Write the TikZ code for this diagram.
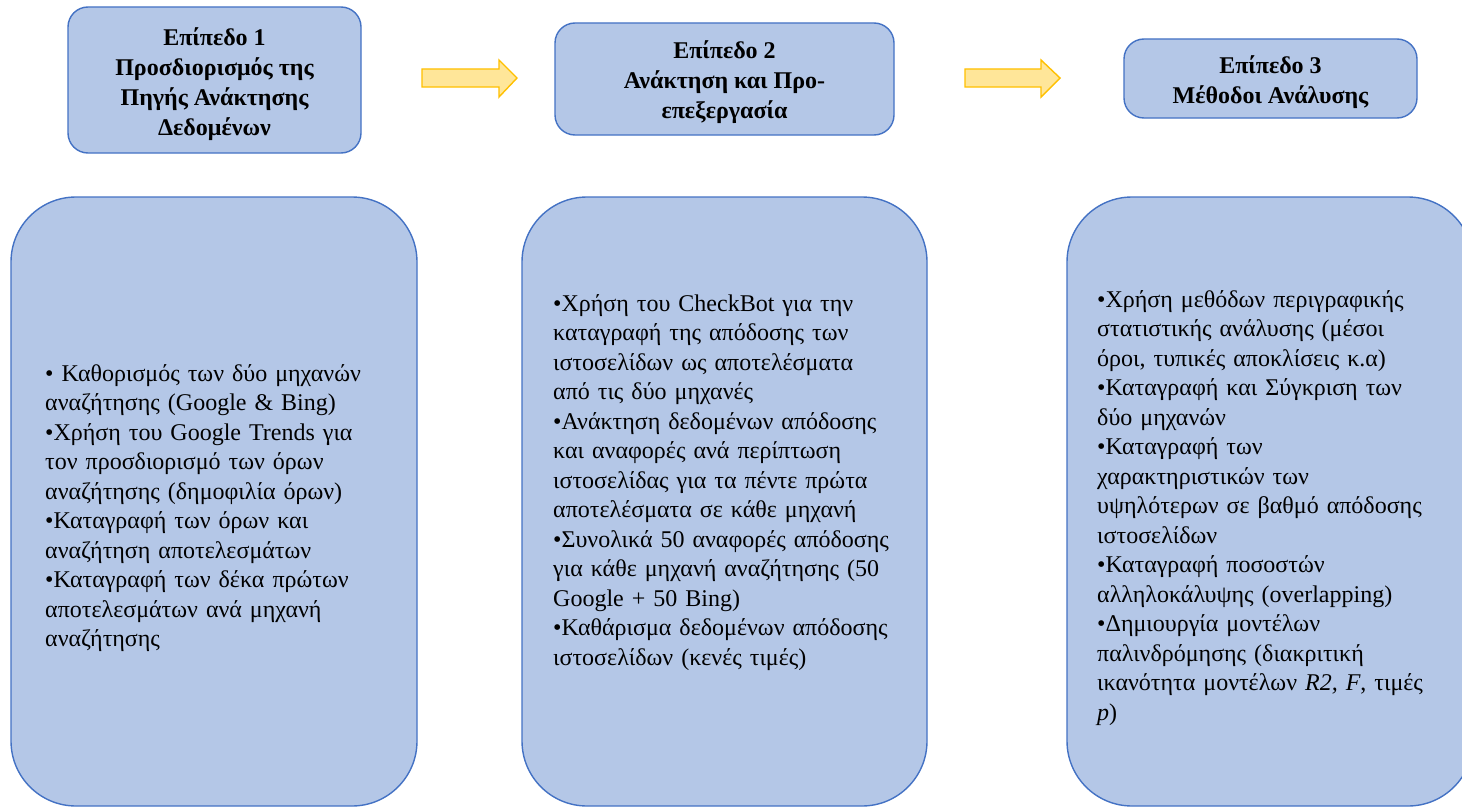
\documentclass[tikz,border=0pt]{standalone}
\usepackage{fontspec}
\setmainfont{Liberation Serif}
\definecolor{boxfill}{HTML}{B4C7E7}
\definecolor{boxline}{HTML}{4472C4}
\definecolor{arrfill}{HTML}{FFE699}
\definecolor{arrline}{HTML}{FFC000}
\tikzset{
  headbox/.style={draw=boxline, fill=boxfill, line width=1.4pt, rounded corners=20pt, inner sep=0pt},
  headtext/.style={align=center, font=\fontsize{24}{30}\selectfont\bfseries, inner sep=0pt},
  bigbox/.style={draw=boxline, fill=boxfill, line width=1.4pt, rounded corners=65pt,
    minimum width=406pt, minimum height=609pt, inner sep=0pt},
  bodytext/.style={anchor=base west, align=left, text width=390pt, inner sep=0pt,
    font=\fontsize{24}{29.5}\selectfont},
  blockarrow/.style={draw=arrline, fill=arrfill, line width=1.4pt, line join=miter}
}
\begin{document}
\begin{tikzpicture}[x=1pt,y=-1pt]
\clip (0,0) rectangle (1462,808);
\fill[white] (0,0) rectangle (1462,808);

\node[headbox, minimum width=293pt, minimum height=146pt] (h1) at (214.5,80) {};
\node[headbox, minimum width=339pt, minimum height=112pt] (h2) at (724.5,79) {};
\node[headbox, minimum width=293pt, minimum height=79pt] (h3) at (1270.5,78.5) {};
\node[headtext] (h1t) at ([yshift=-4pt]h1.center)
  {Επίπεδο 1\\Προσδιορισμός της\\Πηγής Ανάκτησης\\Δεδομένων};
\node[headtext] (h2t) at ([yshift=-3.5pt]h2.center)
  {Επίπεδο 2\\Ανάκτηση και Προ-\\επεξεργασία};
\node[headtext] (h3t) at ([yshift=-3.5pt]h3.center)
  {Επίπεδο 3\\Μέθοδοι Ανάλυσης};

\draw[blockarrow] (422,69) -- (499,69) -- (499,60) -- (517,78) -- (499,97) -- (499,87) -- (422,87) -- cycle;
\draw[blockarrow] (965,69) -- (1041,69) -- (1041,60) -- (1060,78) -- (1041,97) -- (1041,87) -- (965,87) -- cycle;

\node[bigbox] (b1) at (214,501.5) {};
\node[bigbox, minimum width=405pt] (b2) at (724.5,501.5) {};
\node[bigbox] (b3) at (1270,501.5) {};

\node[bodytext] (t1) at (45,381) {%
• Καθορισμός των δύο μηχανών\\
αναζήτησης (Google \& Bing)\\
•Χρήση του Google Trends για\\
τον προσδιορισμό των όρων\\
αναζήτησης (δημοφιλία όρων)\\
•Καταγραφή των όρων και\\
αναζήτηση αποτελεσμάτων\\
•Καταγραφή των δέκα πρώτων\\
αποτελεσμάτων ανά μηχανή\\
αναζήτησης};

\node[bodytext] (t2) at (553,311) {%
•Χρήση του CheckBot για την\\
καταγραφή της απόδοσης των\\
ιστοσελίδων ως αποτελέσματα\\
από τις δύο μηχανές\\
•Ανάκτηση δεδομένων απόδοσης\\
και αναφορές ανά περίπτωση\\
ιστοσελίδας για τα πέντε πρώτα\\
αποτελέσματα σε κάθε μηχανή\\
•Συνολικά 50 αναφορές απόδοσης\\
για κάθε μηχανή αναζήτησης (50\\
Google + 50 Bing)\\
•Καθάρισμα δεδομένων απόδοσης\\
ιστοσελίδων (κενές τιμές)};

\node[bodytext] (t3) at (1097,307) {%
•Χρήση μεθόδων περιγραφικής\\
στατιστικής ανάλυσης (μέσοι\\
όροι, τυπικές αποκλίσεις κ.α)\\
•Καταγραφή και Σύγκριση των\\
δύο μηχανών\\
•Καταγραφή των\\
χαρακτηριστικών των\\
υψηλότερων σε βαθμό απόδοσης\\
ιστοσελίδων\\
•Καταγραφή ποσοστών\\
αλληλοκάλυψης (overlapping)\\
•Δημιουργία μοντέλων\\
παλινδρόμησης (διακριτική\\
ικανότητα μοντέλων \textit{R2, F}, τιμές\\
\textit{p})};
\end{tikzpicture}
\end{document}
